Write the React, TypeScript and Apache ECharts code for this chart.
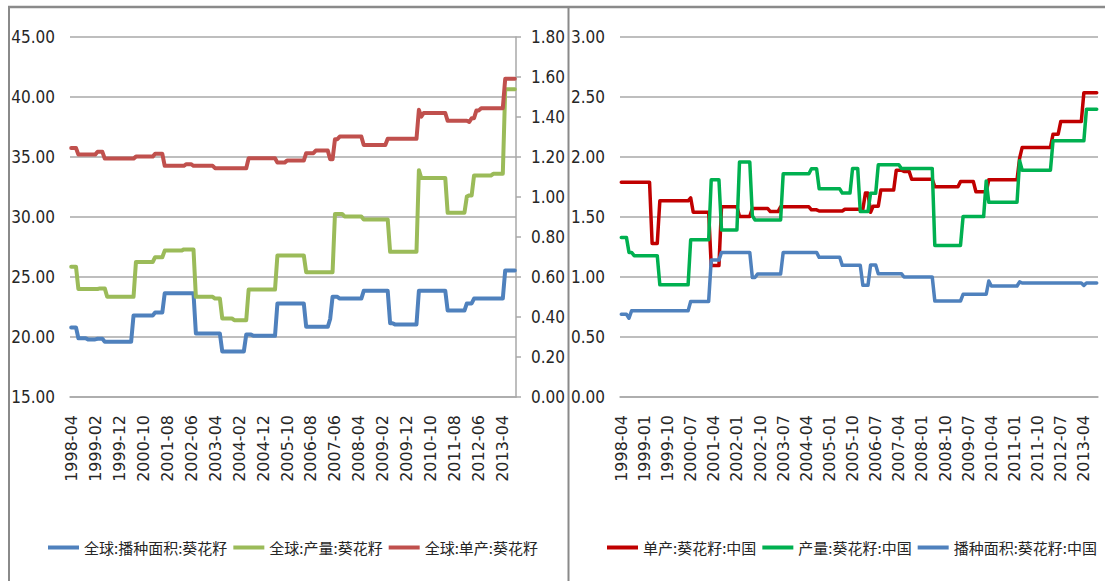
import { useEffect, useRef } from "react";
import * as echarts from "echarts";

// Monthly categories, 1998-04 through 2013-09
const START_YEAR = 1998;
const START_MONTH = 4;
const MONTH_COUNT = 186;
const months: string[] = [];
for (let k = 0; k < MONTH_COUNT; k++) {
  const m = START_MONTH - 1 + k;
  const y = START_YEAR + Math.floor(m / 12);
  const mm = (m % 12) + 1;
  months.push(`${y}-${String(mm).padStart(2, "0")}`);
}

// World sunflower seed: sown area (left axis)
const worldArea = [
  20.8, 20.8, 20.8,
  19.9, 19.9, 19.9, 19.9,
  19.8, 19.8, 19.8, 19.8,
  19.85, 19.85, 19.85,
  19.6, 19.6, 19.6, 19.6, 19.6, 19.6, 19.6, 19.6, 19.6, 19.6, 19.6, 19.6,
  21.8, 21.8, 21.8, 21.8, 21.8, 21.8, 21.8, 21.8, 21.8,
  22.05, 22.05, 22.05, 22.05,
  23.65, 23.65, 23.65, 23.65, 23.65, 23.65, 23.65, 23.65, 23.65, 23.65, 23.65, 23.65, 23.65,
  20.3, 20.3, 20.3, 20.3, 20.3, 20.3, 20.3, 20.3, 20.3, 20.3, 20.3,
  18.8, 18.8, 18.8, 18.8, 18.8, 18.8, 18.8, 18.8, 18.8, 18.8,
  20.2, 20.2, 20.2,
  20.1, 20.1, 20.1, 20.1, 20.1, 20.1, 20.1, 20.1, 20.1, 20.1,
  22.8, 22.8, 22.8, 22.8, 22.8, 22.8, 22.8, 22.8, 22.8, 22.8, 22.8, 22.8,
  20.85, 20.85, 20.85, 20.85, 20.85, 20.85, 20.85, 20.85, 20.85, 20.85,
  21.5,
  23.35, 23.35, 23.35,
  23.2, 23.2, 23.2, 23.2, 23.2, 23.2, 23.2, 23.2, 23.2, 23.2,
  23.85, 23.85, 23.85, 23.85, 23.85, 23.85, 23.85, 23.85, 23.85, 23.85, 23.85,
  21.15, 21.15,
  21.05, 21.05, 21.05, 21.05, 21.05, 21.05, 21.05, 21.05, 21.05, 21.05,
  23.85, 23.85, 23.85, 23.85, 23.85, 23.85, 23.85, 23.85, 23.85, 23.85, 23.85, 23.85,
  22.2, 22.2, 22.2, 22.2, 22.2, 22.2, 22.2, 22.2,
  22.8, 22.8, 22.8,
  23.2, 23.2, 23.2, 23.2, 23.2, 23.2, 23.2, 23.2, 23.2, 23.2, 23.2, 23.2, 23.2,
  25.55, 25.55, 25.55, 25.55, 25.55,
];

// World sunflower seed: output (left axis)
const worldOutput = [
  25.85, 25.85, 25.85,
  24.0, 24.0, 24.0, 24.0, 24.0, 24.0, 24.0, 24.0, 24.0,
  24.05, 24.05, 24.05,
  23.35, 23.35, 23.35, 23.35, 23.35, 23.35, 23.35, 23.35, 23.35, 23.35, 23.35, 23.35,
  26.25, 26.25, 26.25, 26.25, 26.25, 26.25, 26.25, 26.25,
  26.65, 26.65, 26.65, 26.65,
  27.2, 27.2, 27.2, 27.2, 27.2, 27.2, 27.2, 27.2,
  27.3, 27.3, 27.3, 27.3, 27.3,
  23.35, 23.35, 23.35, 23.35, 23.35, 23.35, 23.35, 23.35,
  23.2, 23.2, 23.2,
  21.55, 21.55, 21.55, 21.55, 21.55,
  21.4, 21.4, 21.4, 21.4, 21.4, 21.4,
  23.95, 23.95, 23.95, 23.95, 23.95, 23.95, 23.95, 23.95, 23.95, 23.95, 23.95, 23.95,
  26.8, 26.8, 26.8, 26.8, 26.8, 26.8, 26.8, 26.8, 26.8, 26.8, 26.8, 26.8,
  25.4, 25.4, 25.4, 25.4, 25.4, 25.4, 25.4, 25.4, 25.4, 25.4, 25.4, 25.4,
  30.25, 30.25, 30.25, 30.25,
  30.05, 30.05, 30.05, 30.05, 30.05, 30.05, 30.05, 30.05,
  29.8, 29.8, 29.8, 29.8, 29.8, 29.8, 29.8, 29.8, 29.8, 29.8, 29.8,
  27.1, 27.1, 27.1, 27.1, 27.1, 27.1, 27.1, 27.1, 27.1, 27.1, 27.1, 27.1,
  33.9,
  33.25, 33.25, 33.25, 33.25, 33.25, 33.25, 33.25, 33.25, 33.25, 33.25, 33.25,
  30.35, 30.35, 30.35, 30.35, 30.35, 30.35, 30.35, 30.35,
  31.7,
  31.8, 31.8,
  33.45, 33.45, 33.45, 33.45, 33.45, 33.45, 33.45, 33.45,
  33.6, 33.6, 33.6, 33.6, 33.6,
  40.65, 40.65, 40.65, 40.65, 40.65,
];

// World sunflower seed: yield (right axis)
const worldYield = [
  1.245, 1.245, 1.245,
  1.212, 1.212, 1.212, 1.212, 1.212, 1.212, 1.212, 1.212,
  1.226, 1.226, 1.226,
  1.192, 1.192, 1.192, 1.192, 1.192, 1.192, 1.192, 1.192, 1.192, 1.192, 1.192, 1.192, 1.192,
  1.202, 1.202, 1.202, 1.202, 1.202, 1.202, 1.202, 1.202,
  1.216, 1.216, 1.216, 1.216,
  1.156, 1.156, 1.156, 1.156, 1.156, 1.156, 1.156, 1.156, 1.156,
  1.164, 1.164, 1.164,
  1.156, 1.156, 1.156, 1.156, 1.156, 1.156, 1.156, 1.156, 1.156,
  1.144, 1.144, 1.144, 1.144, 1.144, 1.144, 1.144, 1.144, 1.144, 1.144, 1.144, 1.144, 1.144, 1.144,
  1.194, 1.194, 1.194, 1.194, 1.194, 1.194, 1.194, 1.194, 1.194, 1.194, 1.194, 1.194,
  1.172, 1.172, 1.172, 1.172,
  1.182, 1.182, 1.182, 1.182, 1.182, 1.182, 1.182, 1.182,
  1.219, 1.219, 1.219, 1.219,
  1.232, 1.232, 1.232, 1.232, 1.232, 1.232,
  1.189, 1.189,
  1.289, 1.289,
  1.302, 1.302, 1.302, 1.302, 1.302, 1.302, 1.302, 1.302, 1.302, 1.302,
  1.26, 1.26, 1.26, 1.26, 1.26, 1.26, 1.26, 1.26, 1.26, 1.26,
  1.291, 1.291, 1.291, 1.291, 1.291, 1.291, 1.291, 1.291, 1.291, 1.291, 1.291, 1.291, 1.291,
  1.436,
  1.402,
  1.42, 1.42, 1.42, 1.42, 1.42, 1.42, 1.42, 1.42, 1.42, 1.42,
  1.381, 1.381, 1.381, 1.381, 1.381, 1.381, 1.381, 1.381, 1.381,
  1.375,
  1.394, 1.394,
  1.433, 1.433,
  1.444, 1.444, 1.444, 1.444, 1.444, 1.444, 1.444, 1.444, 1.444, 1.444,
  1.591, 1.591, 1.591, 1.591, 1.591,
];

// China sunflower seed: yield
const chinaYield = [
  1.79, 1.79, 1.79, 1.79, 1.79, 1.79, 1.79, 1.79, 1.79, 1.79, 1.79, 1.79,
  1.28, 1.28, 1.28,
  1.635, 1.635, 1.635, 1.635, 1.635, 1.635, 1.635, 1.635, 1.635, 1.635, 1.635, 1.635,
  1.66,
  1.54, 1.54, 1.54, 1.54, 1.54, 1.54, 1.54,
  1.095, 1.095, 1.095, 1.095,
  1.585, 1.585, 1.585, 1.585, 1.585, 1.585, 1.585,
  1.505, 1.505, 1.505, 1.505, 1.505,
  1.57, 1.57, 1.57, 1.57, 1.57, 1.57, 1.57,
  1.545, 1.545, 1.545, 1.545,
  1.585, 1.585, 1.585, 1.585, 1.585, 1.585, 1.585, 1.585, 1.585, 1.585, 1.585, 1.585,
  1.56, 1.56, 1.56,
  1.55, 1.55, 1.55, 1.55, 1.55, 1.55, 1.55, 1.55, 1.55, 1.55,
  1.565, 1.565, 1.565, 1.565, 1.565, 1.565, 1.565, 1.565,
  1.7, 1.7,
  1.54,
  1.59, 1.59, 1.59,
  1.725, 1.725, 1.725, 1.725, 1.725, 1.725,
  1.89, 1.89, 1.89,
  1.88, 1.88, 1.88,
  1.815, 1.815, 1.815, 1.815, 1.815, 1.815, 1.815, 1.815, 1.815,
  1.752, 1.752, 1.752, 1.752, 1.752, 1.752, 1.752, 1.752, 1.752, 1.752,
  1.795, 1.795, 1.795, 1.795, 1.795, 1.795,
  1.71, 1.71, 1.71, 1.71, 1.71,
  1.81, 1.81, 1.81, 1.81, 1.81, 1.81, 1.81, 1.81, 1.81, 1.81, 1.81, 1.81,
  1.99,
  2.08, 2.08, 2.08, 2.08, 2.08, 2.08, 2.08, 2.08, 2.08, 2.08, 2.08, 2.08,
  2.19, 2.19, 2.19,
  2.295, 2.295, 2.295, 2.295, 2.295, 2.295, 2.295, 2.295, 2.295,
  2.536, 2.536, 2.536, 2.536, 2.536, 2.536,
];

// China sunflower seed: output
const chinaOutput = [
  1.33, 1.33, 1.33,
  1.205, 1.205,
  1.178, 1.178, 1.178, 1.178, 1.178, 1.178, 1.178, 1.178, 1.178, 1.178,
  0.935, 0.935, 0.935, 0.935, 0.935, 0.935, 0.935, 0.935, 0.935, 0.935, 0.935, 0.935,
  1.31, 1.31, 1.31, 1.31, 1.31, 1.31, 1.31, 1.31,
  1.81, 1.81, 1.81, 1.81,
  1.392, 1.392, 1.392, 1.392, 1.392, 1.392, 1.392,
  1.958, 1.958, 1.958, 1.958, 1.958,
  1.512,
  1.476, 1.476, 1.476, 1.476, 1.476, 1.476, 1.476, 1.476, 1.476, 1.476, 1.476,
  1.86, 1.86, 1.86, 1.86, 1.86, 1.86, 1.86, 1.86, 1.86, 1.86, 1.86,
  1.902, 1.902, 1.902,
  1.735, 1.735, 1.735, 1.735, 1.735, 1.735, 1.735, 1.735, 1.735,
  1.699, 1.699, 1.699, 1.699,
  1.905, 1.905, 1.905,
  1.545, 1.545, 1.545, 1.545,
  1.697, 1.697, 1.697,
  1.935, 1.935, 1.935, 1.935, 1.935, 1.935, 1.935, 1.935, 1.935,
  1.905, 1.905, 1.905, 1.905, 1.905, 1.905, 1.905, 1.905, 1.905, 1.905, 1.905, 1.905, 1.905,
  1.263, 1.263, 1.263, 1.263, 1.263, 1.263, 1.263, 1.263, 1.263, 1.263, 1.263,
  1.504, 1.504, 1.504, 1.504, 1.504, 1.504, 1.504, 1.504, 1.504,
  1.8,
  1.623, 1.623, 1.623, 1.623, 1.623, 1.623, 1.623, 1.623, 1.623, 1.623, 1.623, 1.623,
  1.969,
  1.89, 1.89, 1.89, 1.89, 1.89, 1.89, 1.89, 1.89, 1.89, 1.89, 1.89, 1.89,
  2.135, 2.135, 2.135, 2.135, 2.135, 2.135, 2.135, 2.135, 2.135, 2.135, 2.135, 2.135, 2.135,
  2.398, 2.398, 2.398, 2.398, 2.398,
];

// China sunflower seed: sown area
const chinaArea = [
  0.69, 0.69, 0.69,
  0.656,
  0.718, 0.718, 0.718, 0.718, 0.718, 0.718, 0.718, 0.718, 0.718, 0.718, 0.718, 0.718,
  0.718, 0.718, 0.718, 0.718, 0.718, 0.718, 0.718, 0.718, 0.718, 0.718, 0.718,
  0.796, 0.796, 0.796, 0.796, 0.796, 0.796, 0.796, 0.796,
  1.141, 1.141, 1.141, 1.141,
  1.205, 1.205, 1.205, 1.205, 1.205, 1.205, 1.205, 1.205, 1.205, 1.205, 1.205, 1.205,
  0.996, 0.996,
  1.024, 1.024, 1.024, 1.024, 1.024, 1.024, 1.024, 1.024, 1.024, 1.024,
  1.205, 1.205, 1.205, 1.205, 1.205, 1.205, 1.205, 1.205, 1.205, 1.205, 1.205, 1.205, 1.205, 1.205,
  1.164, 1.164, 1.164, 1.164, 1.164, 1.164, 1.164, 1.164, 1.164,
  1.097, 1.097, 1.097, 1.097, 1.097, 1.097, 1.097, 1.097,
  0.931, 0.931, 0.931,
  1.1, 1.1, 1.1,
  1.028, 1.028, 1.028, 1.028, 1.028, 1.028, 1.028, 1.028, 1.028, 1.028,
  1.0, 1.0, 1.0, 1.0, 1.0, 1.0, 1.0, 1.0, 1.0, 1.0, 1.0, 1.0,
  0.8, 0.8, 0.8, 0.8, 0.8, 0.8, 0.8, 0.8, 0.8, 0.8, 0.8,
  0.856, 0.856, 0.856, 0.856, 0.856, 0.856, 0.856, 0.856, 0.856, 0.856,
  0.967,
  0.925, 0.925, 0.925, 0.925, 0.925, 0.925, 0.925, 0.925, 0.925, 0.925, 0.925,
  0.96,
  0.95, 0.95, 0.95, 0.95, 0.95, 0.95, 0.95, 0.95, 0.95, 0.95, 0.95, 0.95,
  0.95, 0.95, 0.95, 0.95, 0.95, 0.95, 0.95, 0.95, 0.95, 0.95, 0.95, 0.95,
  0.93,
  0.95, 0.95, 0.95, 0.95, 0.95,
];

const WORLD_NAMES = ["全球:播种面积:葵花籽", "全球:产量:葵花籽", "全球:单产:葵花籽"];
const CHINA_NAMES = ["单产:葵花籽:中国", "产量:葵花籽:中国", "播种面积:葵花籽:中国"];

const GRID_GRAY = "#a9a9a9";
const FRAME_GRAY = "#8a8a8a";
const TEXT = "#262626";
const NUM_FONT = "'Liberation Sans Narrow', 'DejaVu Sans Condensed', 'Liberation Sans', sans-serif";
const DATE_FONT = "'DejaVu Sans', sans-serif";
const CJK_FONT = "'Noto Sans CJK SC', sans-serif";

const fmt2 = (v: number) => v.toFixed(2);

function xAxis(gridIndex: number, every: number) {
  return {
    type: "category",
    gridIndex,
    data: months,
    boundaryGap: true,
    axisLine: { show: true, lineStyle: { color: GRID_GRAY, width: 1.5 } },
    axisTick: { show: false },
    axisLabel: {
      interval: every - 1,
      rotate: 90,
      margin: 18,
      fontFamily: DATE_FONT,
      fontSize: 16,
      color: TEXT,
    },
    splitLine: { show: false },
  };
}

const valueLabel = {
  formatter: fmt2,
  margin: 15,
  fontFamily: NUM_FONT,
  fontSize: 17,
  color: TEXT,
};

function line(name: string, data: number[], color: string, xi: number, yi: number, width: number) {
  return {
    type: "line",
    name,
    data,
    xAxisIndex: xi,
    yAxisIndex: yi,
    showSymbol: false,
    symbol: "none",
    itemStyle: { color },
    lineStyle: { color, width, cap: "round", join: "round" },
  };
}

const legendBase = {
  top: 535,
  icon: "rect",
  itemWidth: 31,
  itemHeight: 4,
  itemGap: 6,
  textStyle: { fontFamily: CJK_FONT, fontSize: 15, color: TEXT },
};

export default function App() {
  const ref = useRef<HTMLDivElement>(null);

  useEffect(() => {
    if (!ref.current) return;
    const chart = echarts.init(ref.current, undefined, { renderer: "svg" });
    chart.setOption({
      animation: false,
      backgroundColor: "#ffffff",
      grid: [
        { left: 70, top: 37, width: 446, height: 360 },
        { left: 620, top: 37, width: 478, height: 360 },
      ],
      xAxis: [xAxis(0, 10), xAxis(1, 9)],
      yAxis: [
        {
          type: "value",
          gridIndex: 0,
          min: 15,
          max: 45,
          interval: 5,
          axisLine: { show: false },
          axisTick: { show: false },
          splitLine: { show: true, lineStyle: { color: GRID_GRAY, width: 1.5 } },
          axisLabel: valueLabel,
        },
        {
          type: "value",
          gridIndex: 0,
          position: "right",
          min: 0,
          max: 1.8,
          interval: 0.2,
          axisLine: { show: true, lineStyle: { color: GRID_GRAY, width: 1.5 } },
          axisTick: { show: true, length: 5, lineStyle: { color: GRID_GRAY, width: 1.5 } },
          splitLine: { show: false },
          axisLabel: valueLabel,
        },
        {
          type: "value",
          gridIndex: 1,
          min: 0,
          max: 3,
          interval: 0.5,
          axisLine: { show: false },
          axisTick: { show: false },
          splitLine: { show: true, lineStyle: { color: GRID_GRAY, width: 1.5 } },
          axisLabel: valueLabel,
        },
      ],
      legend: [
        { ...legendBase, left: 43, data: WORLD_NAMES },
        { ...legendBase, left: 602, data: CHINA_NAMES },
      ],
      series: [
        line(WORLD_NAMES[0], worldArea, "#4f81bd", 0, 0, 4),
        line(WORLD_NAMES[1], worldOutput, "#9bbb59", 0, 0, 4),
        line(WORLD_NAMES[2], worldYield, "#c0504d", 0, 1, 4),
        line(CHINA_NAMES[0], chinaYield, "#c00000", 1, 2, 3.5),
        line(CHINA_NAMES[1], chinaOutput, "#00b050", 1, 2, 3.5),
        line(CHINA_NAMES[2], chinaArea, "#4f81bd", 1, 2, 3.5),
      ],
      graphic: [
        { type: "line", shape: { x1: 8, y1: 7, x2: 1105, y2: 7 }, style: { stroke: FRAME_GRAY, lineWidth: 2.5 } },
        { type: "line", shape: { x1: 9, y1: 7, x2: 9, y2: 581 }, style: { stroke: FRAME_GRAY, lineWidth: 2 } },
        { type: "line", shape: { x1: 568.5, y1: 7, x2: 568.5, y2: 581 }, style: { stroke: FRAME_GRAY, lineWidth: 2 } },
      ],
    });
    return () => chart.dispose();
  }, []);

  return (
    <div
      ref={ref}
      style={{ position: "fixed", left: 0, top: 0, width: 1105, height: 581, background: "#fff" }}
    />
  );
}
